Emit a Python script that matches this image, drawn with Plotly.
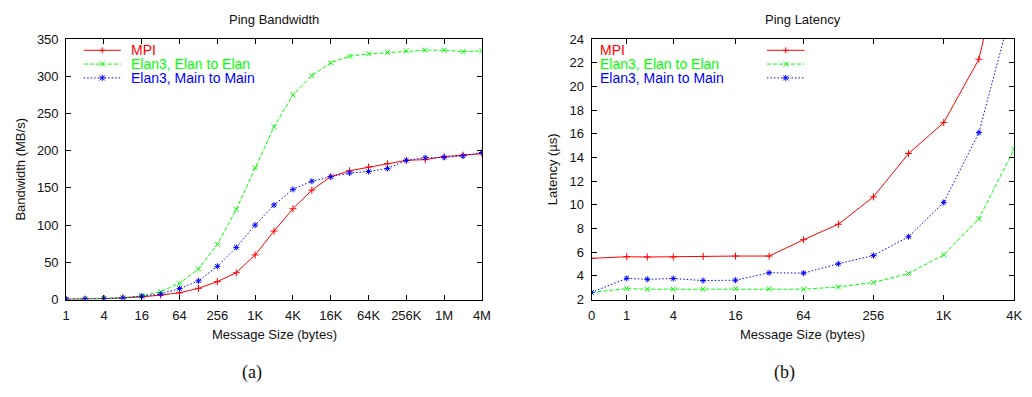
import plotly.graph_objects as go

# ---------------- data ----------------
bw_sizes = [1, 2, 4, 8, 16, 32, 64, 128, 256, 512, 1024, 2048, 4096, 8192, 16384,
            32768, 65536, 131072, 262144, 524288, 1048576, 2097152, 4194304]
mpi_bw = [0.3, 0.6, 1.2, 2.3, 3.5, 6, 9, 15, 24, 36, 60, 92, 122, 147, 165,
          173, 178, 182.5, 187, 188, 192, 194, 196]
elan_bw = [0.5, 0.8, 1.5, 2.5, 5, 10.5, 22, 41, 74, 121, 177, 232, 275, 301, 318,
           327, 330, 332, 334, 335, 335, 333, 334]
main_bw = [0.4, 0.6, 1.2, 2, 4.3, 7.4, 14.7, 25, 44.6, 70, 100, 127, 148, 159, 165,
           170, 172, 176, 187, 190.5, 191, 193, 197.5]
bw_tick_vals = [1, 4, 16, 64, 256, 1024, 4096, 16384, 65536, 262144, 1048576, 4194304]
bw_tick_text = ["1", "4", "16", "64", "256", "1K", "4K", "16K", "64K", "256K", "1M", "4M"]

lat_sizes = [0, 1, 2, 4, 8, 16, 32, 64, 128, 256, 512, 1024, 2048, 4096]
mpi_lat = [5.48, 5.61, 5.59, 5.59, 5.64, 5.67, 5.67, 7.05, 8.36, 10.67, 14.33, 16.94, 22.3, 35]
elan_lat = [2.6, 2.92, 2.87, 2.87, 2.87, 2.92, 2.9, 2.87, 3.06, 3.44, 4.2, 5.77, 8.82, 14.7]
main_lat = [2.6, 3.79, 3.71, 3.77, 3.6, 3.63, 4.26, 4.23, 5.02, 5.72, 7.3, 10.2, 16.1, 27.3]
lat_tick_sizes = [0, 1, 4, 16, 64, 256, 1024, 4096]
lat_tick_text = ["0", "1", "4", "16", "64", "256", "1K", "4K"]

series_names = ["MPI", "Elan3, Elan to Elan", "Elan3, Main to Main"]
colors = ["#ff0000", "#00ff00", "#0000ff"]
dashes = ["solid", "4px,2px", "1.5px,2px"]
symbols = ["cross-thin-open", "x-thin-open", "asterisk-open"]

# ---------------- layout constants ----------------
W, H = 1032, 397
FONT = "Liberation Sans, Arial, sans-serif"


def px(x):
    return x / W


def py(y):
    return (H - y) / H


left_dom = [px(63), px(484)]
right_dom = [px(595), px(1023)]
y_dom = [py(304), py(33.3)]

fig = go.Figure()

# latency plotted on log(size+1) axis
lat_x = [s + 1 for s in lat_sizes]
lat_tick_vals = [s + 1 for s in lat_tick_sizes]

bw_series = [mpi_bw, elan_bw, main_bw]
lat_series = [mpi_lat, elan_lat, main_lat]

for i in range(3):
    fig.add_trace(go.Scatter(
        x=bw_sizes, y=bw_series[i], mode="lines+markers", name=series_names[i],
        line=dict(color=colors[i], width=1, dash=dashes[i]),
        marker=dict(symbol=symbols[i], size=5, color=colors[i],
                    line=dict(color=colors[i], width=1)),
        xaxis="x", yaxis="y", showlegend=False))
for i in range(3):
    fig.add_trace(go.Scatter(
        x=lat_x, y=lat_series[i], mode="lines+markers", name=series_names[i],
        line=dict(color=colors[i], width=1, dash=dashes[i]),
        marker=dict(symbol=symbols[i], size=5, color=colors[i],
                    line=dict(color=colors[i], width=1)),
        xaxis="x2", yaxis="y2", showlegend=False))

axis_common = dict(showline=True, linecolor="black", linewidth=1, mirror="ticks",
                   ticks="inside", ticklen=5, tickcolor="black", showgrid=False,
                   zeroline=False, tickfont=dict(family=FONT, size=13, color="#111"))

fig.update_layout(
    width=W, height=H, margin=dict(l=0, r=0, t=0, b=0),
    paper_bgcolor="white", plot_bgcolor="white",
    font=dict(family=FONT, size=13, color="#111"),
    xaxis=dict(domain=left_dom, type="log", range=[0, 6.62266],
               tickvals=bw_tick_vals, ticktext=bw_tick_text, anchor="y",
               ticklabelstandoff=4, **axis_common),
    yaxis=dict(domain=y_dom, range=[0, 350], dtick=50, anchor="x",
               ticklabelstandoff=4, **axis_common),
    xaxis2=dict(domain=right_dom, type="log", range=[0, 3.61247],
                tickvals=lat_tick_vals, ticktext=lat_tick_text, anchor="y2",
                ticklabelstandoff=4, **axis_common),
    yaxis2=dict(domain=y_dom, range=[2, 24], dtick=2, anchor="x2",
                ticklabelstandoff=4, **axis_common),
)

annotations = []


def txt(x, y, s, size=13, angle=0, xanchor="center", color="#111", family=FONT):
    annotations.append(dict(x=px(x), y=py(y), xref="paper", yref="paper", text=s,
                            showarrow=False, xanchor=xanchor, yanchor="middle",
                            textangle=angle, font=dict(family=family, size=size, color=color)))


txt(273.5, 12.5, "Ping Bandwidth")
txt(809, 12.5, "Ping Latency")
txt(273.7, 340, "Message Size (bytes)")
txt(809, 340, "Message Size (bytes)")
txt(16.7, 168.5, "Bandwidth (MB/s)", angle=-90)
txt(555, 168.5, "Latency (µs)", angle=-90)
txt(251.3, 380, "(a)", size=18, family="Liberation Serif, Times New Roman, serif")
txt(790.7, 380, "(b)", size=18, family="Liberation Serif, Times New Roman, serif")

# custom legends (gnuplot style)
legend_rows = [45, 59.3, 73.7]
shapes = []
marker_paths = [
    "M-3,0H3M0,-3V3",
    "M-2.5,-2.5L2.5,2.5M-2.5,2.5L2.5,-2.5",
    "M-3,0H3M0,-3V3M-2.5,-2.5L2.5,2.5M-2.5,2.5L2.5,-2.5",
]
legend_boxes = [  # (text x, sample x0, sample x1)
    (127.7, 80.7, 118.3),
    (603, 772.7, 810.7),
]
for tx, sx0, sx1 in legend_boxes:
    for i in range(3):
        yy = legend_rows[i]
        txt(tx - 1, yy, series_names[i], size=14, xanchor="left", color=colors[i])
        shapes.append(dict(type="line", xref="paper", yref="paper",
                           x0=px(sx0), x1=px(sx1), y0=py(yy), y1=py(yy),
                           line=dict(color=colors[i], width=1, dash=dashes[i])))
        shapes.append(dict(type="path", xref="paper", yref="paper",
                           xsizemode="pixel", ysizemode="pixel",
                           xanchor=px((sx0 + sx1) / 2), yanchor=py(yy),
                           path=marker_paths[i],
                           line=dict(color=colors[i], width=1)))

fig.update_layout(annotations=annotations, shapes=shapes)

fig.write_html("out.html")
